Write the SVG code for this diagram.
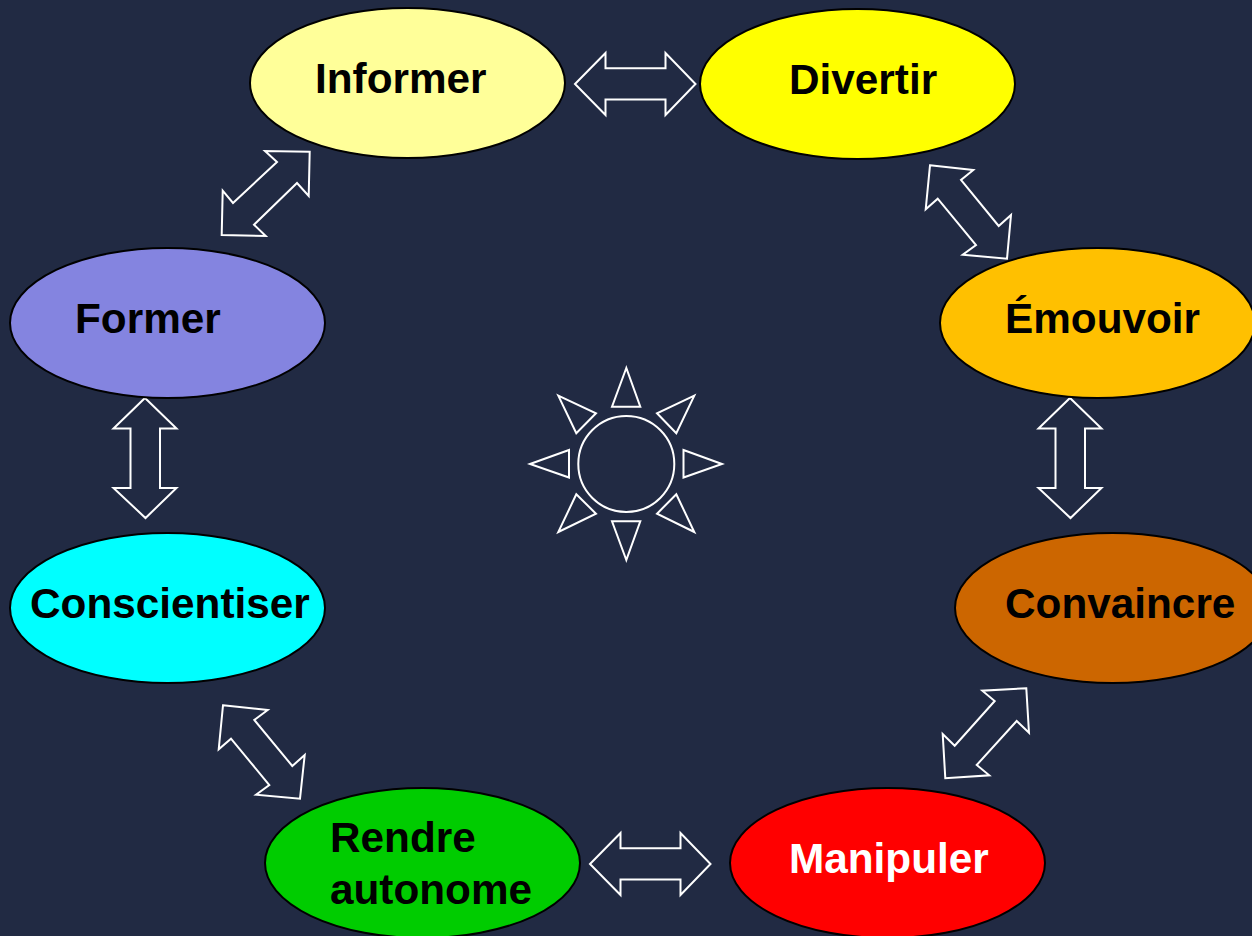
<svg xmlns="http://www.w3.org/2000/svg" width="1252" height="936" viewBox="0 0 1252 936">
<style>
.n{stroke:#000;stroke-width:2}
.t{font-family:"Liberation Sans",Arial,sans-serif;font-weight:700;font-size:42.3px;fill:#000}
.a{fill:none;stroke:#fff;stroke-width:2;stroke-linejoin:miter}
</style>
<rect width="1252" height="936" fill="#212a43"/>
<g id="connectors">
<polygon class="a" points="575,84 605.500,53 605.500,68.300 665.500,68.300 665.500,53 695.500,84 665.500,115 665.500,99.500 605.500,99.500 605.500,115"/>
<polygon class="a" points="590,864 620.500,833 620.500,848.300 680.500,848.300 680.500,833 710.500,864 680.500,895 680.500,879.500 620.500,879.500 620.500,895"/>
<polygon class="a" points="145,398 176.500,428.500 160,428.500 160,488 176.500,488 145.500,518 113.500,488 130.500,488 130.500,428.500 113.500,428.500"/>
<polygon class="a" points="1070,398 1101.500,428.500 1085,428.500 1085,488 1101.500,488 1070.500,518 1038.500,488 1055.500,488 1055.500,428.500 1038.500,428.500"/>
<polygon class="a" points="309.7,151.7 265,151 277,162 233,203 222.7,190.7 221.7,235 265.7,236 254,224.7 297,183 308.7,196"/>
<polygon class="a" points="930,165.3 973.3,170 961,180 998.7,226 1011,215 1007,258.7 962.7,254.700 976,245 937.7,198.7 925.7,209.3"/>
<polygon class="a" points="223,705.3 267.7,710 254.3,720 292.3,766 304.7,755 300,798.7 256,794.7 269.3,785 231,738.7 218.7,749.3"/>
<polygon class="a" points="1026.3,688.3 982.3,690.7 994.7,701 954.7,745.7 942.7,734 945.3,778.3 989.3,775.3 976.7,765 1016.7,721 1029,732.7"/>
</g>
<g id="sun">
<circle class="a" cx="626.3" cy="464" r="48"/>
<polygon class="a" points="626.3,368 612,406.7 640.3,406.7"/>
<polygon class="a" points="626.3,560 612,521.3 640.3,521.3"/>
<polygon class="a" points="530,464 569,450 569,477.5"/>
<polygon class="a" points="722,464 683.5,450 683.5,477.5"/>
<polygon class="a" points="558.3,395.7 596,413.3 576.3,433.3"/>
<polygon class="a" points="694.3,395.7 657,413.3 676.3,433.3"/>
<polygon class="a" points="558.3,532 596,513.7 576.3,494.3"/>
<polygon class="a" points="694.3,532 657,513.7 676.3,494.3"/>
</g>
<g id="informer"><ellipse class="n" cx="407.500" cy="83" rx="157.500" ry="75" fill="#ffff99"/><text class="t" x="315" y="93">Informer</text></g>
<g id="divertir"><ellipse class="n" cx="857.500" cy="84" rx="157.500" ry="75" fill="#ffff00"/><text class="t" x="789" y="94">Divertir</text></g>
<g id="emouvoir"><ellipse class="n" cx="1097.500" cy="323" rx="157.500" ry="75" fill="#ffc000"/><text class="t" x="1005" y="333">Émouvoir</text></g>
<g id="convaincre"><ellipse class="n" cx="1112.500" cy="608" rx="157.500" ry="75" fill="#cc6600"/><text class="t" x="1005" y="618">Convaincre</text></g>
<g id="manipuler"><ellipse class="n" cx="887.500" cy="863" rx="157.500" ry="75" fill="#ff0000"/><text class="t" x="789" y="873" style="fill:#fff">Manipuler</text></g>
<g id="rendre-autonome"><ellipse class="n" cx="422.500" cy="863" rx="157.500" ry="75" fill="#00cc00"/><text class="t" x="330" y="852">Rendre</text><text class="t" x="330" y="904">autonome</text></g>
<g id="conscientiser"><ellipse class="n" cx="167.500" cy="608" rx="157.500" ry="75" fill="#00ffff"/><text class="t" x="30" y="618">Conscientiser</text></g>
<g id="former"><ellipse class="n" cx="167.500" cy="323" rx="157.500" ry="75" fill="#8484e0"/><text class="t" x="75" y="333">Former</text></g>
</svg>
